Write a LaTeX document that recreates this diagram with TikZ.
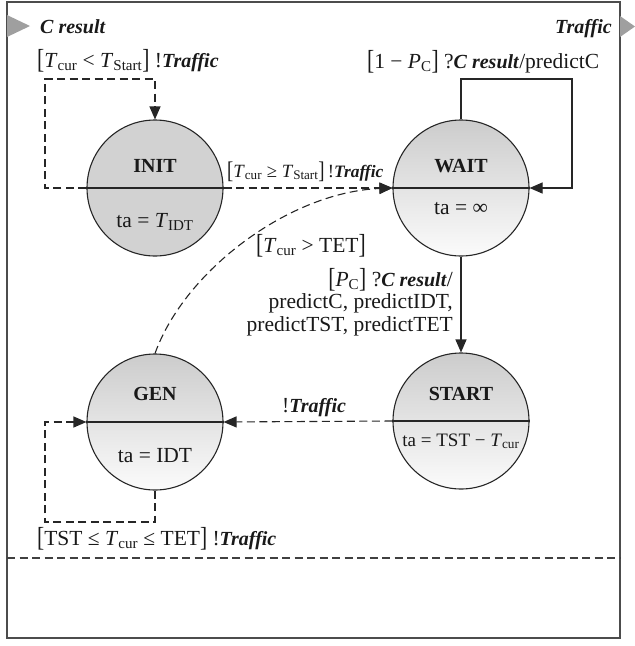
\documentclass[tikz,border=0pt]{standalone}
\usepackage{fontspec}
\setmainfont{Liberation Serif}
\usetikzlibrary{arrows.meta}

% text helpers
\newcommand{\Tv}[1]{\textit{T}\textsubscript{#1}}
\newcommand{\Pc}{\textit{P}\textsubscript{C}}
\newcommand{\bfit}[1]{{\fontsize{20}{22}\selectfont\textbf{\textit{#1}}}}
\newcommand{\bfs}[1]{{\fontsize{20}{22}\selectfont\textbf{#1}}}
\newcommand{\LB}{\raisebox{-0.06em}{\scalebox{1}[1.28]{[}}}
\newcommand{\RB}{\raisebox{-0.06em}{\scalebox{1}[1.28]{]}}}

\tikzset{
  every node/.style={font=\fontsize{21.5}{22.5}\selectfont, text=black!90, inner sep=0pt},
  statenode/.style={circle, draw=black!85, line width=1.1pt, minimum size=136pt, inner sep=0pt},
  plainstate/.style={statenode, fill=gray!35},
  gradstate/.style={statenode, top color=gray!40, bottom color=gray!3},
  conn/.style={draw=black!85, line width=1.1pt},
  dashconn/.style={conn, dash pattern=on 8pt off 4.5pt},
  tip/.style={-{Triangle[length=13pt,width=11pt]}},
  lbl/.style={anchor=base west},
  port/.style={fill=gray!75, draw=none},
}

\begin{document}
\begin{tikzpicture}[x=1pt, y=-1pt]
\useasboundingbox (0,0) rectangle (635,646);

% frame and ports
\draw[draw=black!70, line width=1.4pt] (7,2) rectangle (620,638);
\fill[port] (7,15) -- (30,26) -- (7,37) -- cycle;
\fill[port] (620,16) -- (635,26.5) -- (620,37) -- cycle;
\node[lbl] (cin) at (40,33) {\bfit{C result}};
\node[anchor=base east] (tout) at (612,33) {\bfit{Traffic}};

% states
\node[plainstate] (init) at (155,188) {};
\node[gradstate]  (wait) at (461,188) {};
\node[gradstate]  (start) at (461,421) {};
\node[gradstate]  (gen) at (155,422) {};
\foreach \s in {init,wait,start,gen}
  \draw[conn] (\s.west) -- (\s.east);

\node[anchor=base] (initN) at (155,172) {\bfs{INIT}};
\node[anchor=base] (initT) at (155,227) {ta = \Tv{IDT}};
\node[anchor=base] (waitN) at (461,172) {\bfs{WAIT}};
\node[anchor=base] (waitT) at (461,214) {ta = ∞};
\node[anchor=base] (startN) at (461,400) {\bfs{START}};
\node[anchor=base] (startT) at (461,446) {\fontsize{19}{21}\selectfont ta = TST − \Tv{cur}};
\node[anchor=base] (genN) at (155,400) {\bfs{GEN}};
\node[anchor=base] (genT) at (155,462) {ta = IDT};

% bend points of the loops
\coordinate (il1) at (45,188);
\coordinate (il2) at (45,79);
\coordinate (il3) at (155,79);
\coordinate (wl1) at (461,79);
\coordinate (wl2) at (572,79);
\coordinate (wl3) at (572,188);
\coordinate (gl1) at (155,522);
\coordinate (gl2) at (45,522);
\coordinate (gl3) at (45,422);

% transitions
\draw[dashconn, tip] (init.west) -- (il1) -- (il2) -- (il3) -- (init.north);
\draw[dashconn, tip] (init.east) -- (wait.west);
\draw[conn, tip] (wait.north) -- (wl1) -- (wl2) -- (wl3) -- (wait.east);
\draw[conn, tip] (wait.south) -- (start.north);
\draw[dashconn, tip] (start.west) -- (gen.east);
\draw[dashconn, tip] (gen.north) .. controls (185,270) and (290,192) .. (wait.west);
\draw[dashconn, tip] (gen.south) -- (gl1) -- (gl2) -- (gl3) -- (gen.west);

% transition labels
\node[lbl] (l1) at (37,67) {\LB\Tv{cur} < \Tv{Start}\RB\ !\bfit{Traffic}};
\node[lbl] (l2) at (227,177) {\fontsize{18.7}{20}\selectfont\LB\Tv{cur} ≥ \Tv{Start}\RB\,!{\fontsize{17.4}{20}\selectfont\textbf{\textit{Traffic}}}};
\node[lbl] (l3) at (367,68) {\LB1 − \Pc\RB\ ?\bfit{C result}/predictC};
\node[lbl] (l4) at (256,252) {\LB\Tv{cur} > TET\RB};
\node[anchor=base east, align=right] (l5) at (453,331)
  {\LB\Pc\RB\ ?\bfit{C result}/\\ predictC, predictIDT,\\ predictTST, predictTET};
\node[lbl] (l6) at (282,412) {!\bfit{Traffic}};
\node[lbl] (l7) at (37,545) {\LB TST ≤ \Tv{cur} ≤ TET\RB\ !\bfit{Traffic}};

% lower compartment
\draw[dashconn, draw=black!75] (7,558) -- (620,558);
\end{tikzpicture}
\end{document}
